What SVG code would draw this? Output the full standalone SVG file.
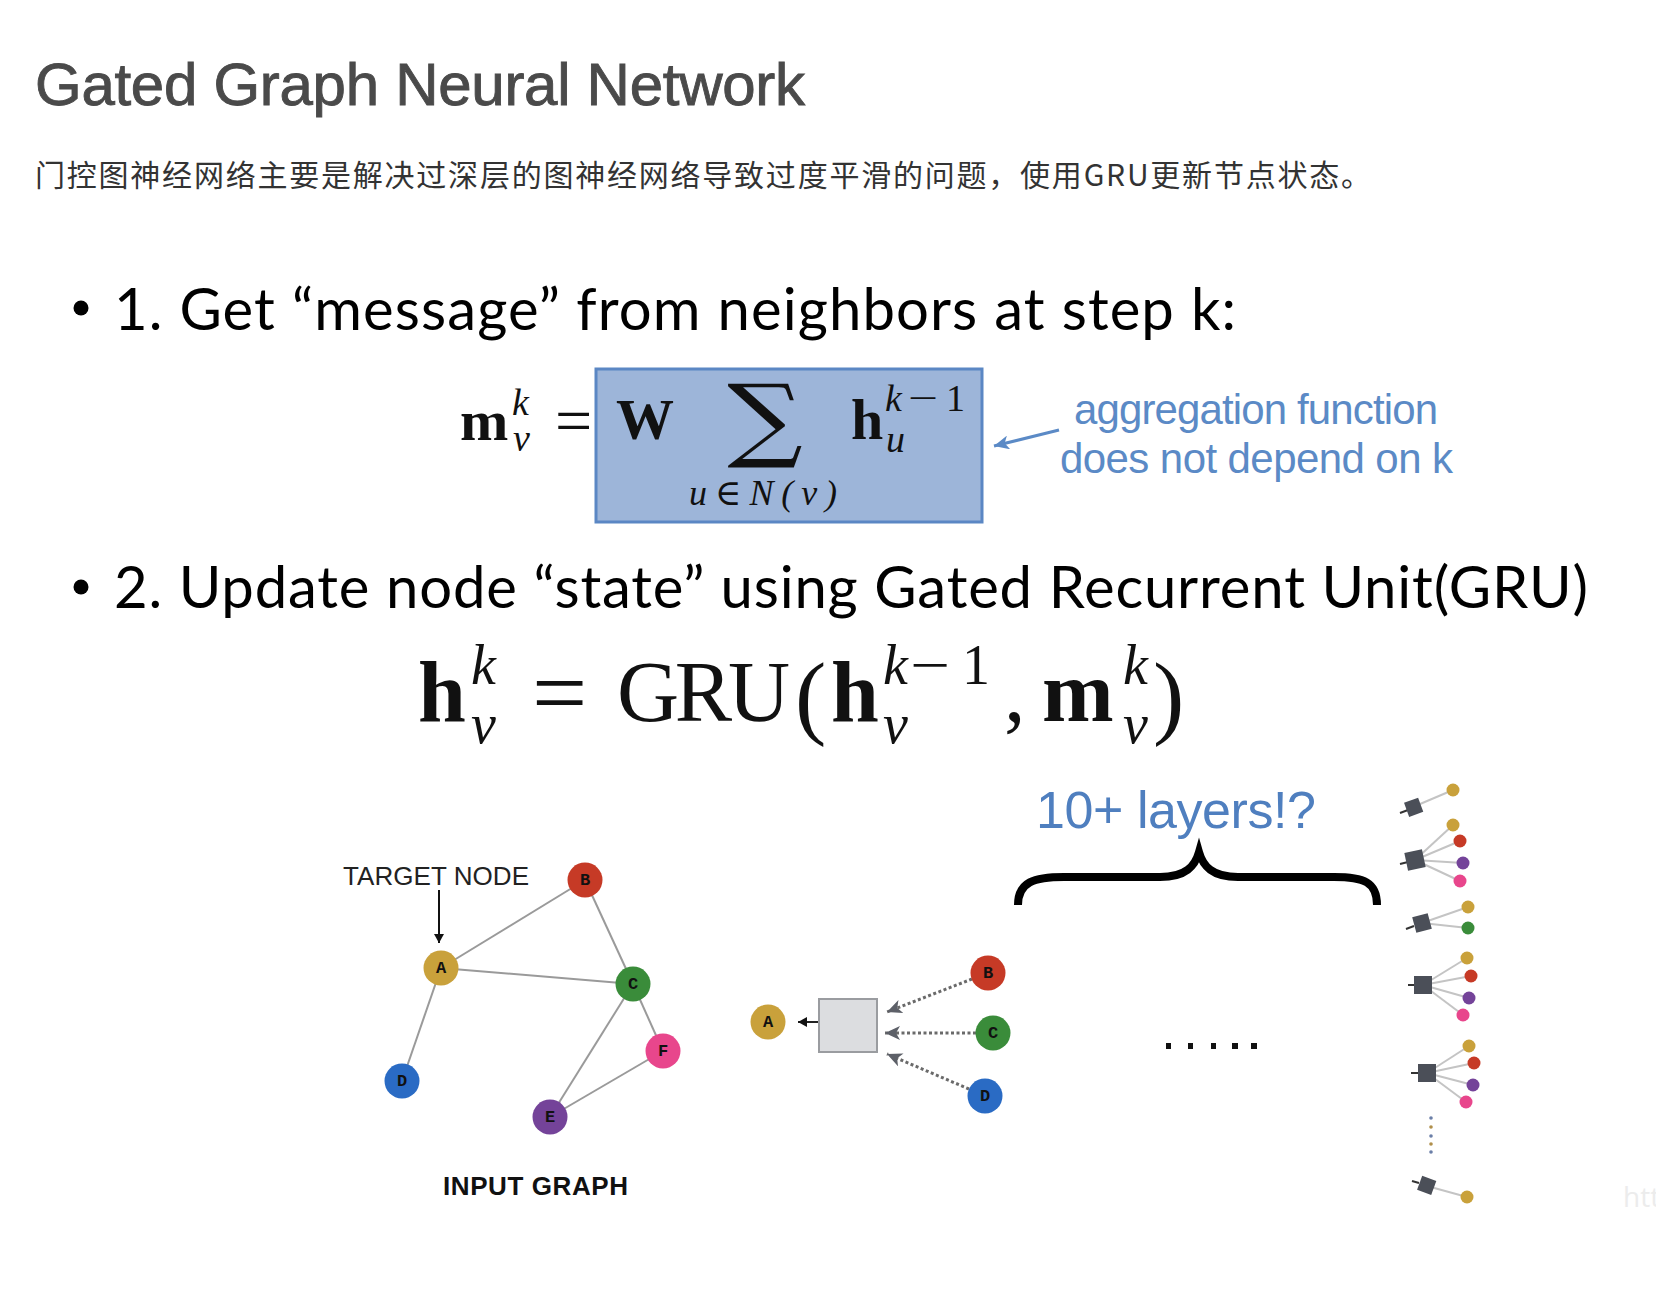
<svg xmlns="http://www.w3.org/2000/svg" width="1656" height="1314" viewBox="0 0 1656 1314">
<defs>
<style>
.title{font-family:"Liberation Sans",Arial,sans-serif;font-size:60px;fill:#4a4a4a;stroke:#4a4a4a;stroke-width:0.9px}
.cn{font-family:"Noto Sans CJK SC",sans-serif;font-size:30px;fill:#333}
.bul{font-family:Lato,"Open Sans",sans-serif;font-size:58px;fill:#000}
.mb{font-family:"Liberation Serif","DejaVu Serif",serif;font-weight:bold;fill:#111}
.mi{font-family:"Liberation Serif","DejaVu Serif",serif;font-style:italic;fill:#111}
.mr{font-family:"Liberation Serif","DejaVu Serif",serif;fill:#111}
.blue{font-family:"Liberation Sans",Arial,sans-serif;fill:#5b8ac6}
.nl{font-family:"Liberation Mono","Courier New",monospace;font-weight:bold;font-size:17px;fill:#111;text-anchor:middle}
.edge{stroke:#9a9a9a;stroke-width:2}
.dot{stroke:#6a6a6a;stroke-width:3;stroke-dasharray:3 2.5;fill:none}
.sq{fill:#4b4f58}
.re{stroke:#c4c4c4;stroke-width:2}
.gold{fill:#c9a13b}.red{fill:#c63a26}.green{fill:#3a8c3a}.pink{fill:#e8468c}.blueN{fill:#2a6bc4}.purple{fill:#744399}
</style>
<marker id="gray" markerUnits="userSpaceOnUse" markerWidth="16" markerHeight="14" refX="15" refY="7" orient="auto"><path d="M0,0 L15,7 L0,14 L4,7 Z" fill="#5d6068"/></marker>
<marker id="blk" markerUnits="userSpaceOnUse" markerWidth="10" markerHeight="10" refX="9" refY="5" orient="auto"><path d="M0,0 L9,5 L0,10 Z" fill="#111"/></marker>
<marker id="blu" markerUnits="userSpaceOnUse" markerWidth="16" markerHeight="14" refX="15" refY="7" orient="auto"><path d="M0,0 L15,7 L0,14 L4,7 Z" fill="#5b8ac6"/></marker>
</defs>
<rect width="1656" height="1314" fill="#fff"/>

<text class="title" x="35" y="105" textLength="770">Gated Graph Neural Network</text>
<text class="cn" x="35" y="186" textLength="1336">门控图神经网络主要是解决过深层的图神经网络导致过度平滑的问题，使用GRU更新节点状态。</text>

<circle cx="81" cy="308" r="7.5" fill="#000"/>
<text class="bul" x="114" y="330" textLength="1122">1. Get “message” from neighbors at step k:</text>

<!-- formula 1 -->
<g id="formula1">
<rect x="596" y="369" width="386" height="153" fill="#9db5d9" stroke="#5b87c4" stroke-width="3"/>
<text class="mb" x="460" y="440" font-size="58">m</text>
<text class="mi" x="512" y="415" font-size="38">k</text>
<text class="mi" x="513" y="451" font-size="38">v</text>
<text class="mr" x="555" y="443" font-size="66">=</text>
<text class="mb" x="616" y="439" font-size="58">W</text>
<text class="mr" x="0" y="0" font-size="92" text-anchor="middle" transform="translate(765 450) scale(1.15 1)" style="font-family:'DejaVu Serif',serif">∑</text>
<text class="mi" x="689" y="505" font-size="36" textLength="148">u∈N(v)</text>
<text class="mb" x="851" y="439" font-size="58">h</text>
<text class="mi" x="885" y="411" font-size="38">k</text>
<text class="mr" x="908" y="411" font-size="38" textLength="30" lengthAdjust="spacingAndGlyphs">−</text>
<text class="mr" x="946" y="411" font-size="38">1</text>
<text class="mi" x="886" y="452" font-size="38">u</text>
</g>
<g id="annotation">
<line x1="1059" y1="430" x2="994" y2="446" stroke="#5b8ac6" stroke-width="3" marker-end="url(#blu)"/>
<text class="blue" x="1074" y="424" font-size="42" textLength="364">aggregation function</text>
<text class="blue" x="1060" y="473" font-size="42" textLength="393">does not depend on k</text>
</g>

<circle cx="81" cy="587" r="7.5" fill="#000"/>
<text class="bul" x="114" y="608" textLength="1474">2. Update node “state” using Gated Recurrent Unit(GRU)</text>

<!-- formula 2 -->
<g id="formula2">
<text class="mb" x="418" y="721" font-size="86">h</text>
<text class="mi" x="471" y="684" font-size="56">k</text>
<text class="mi" x="471" y="743" font-size="56">v</text>
<text class="mr" x="532" y="725" font-size="98">=</text>
<text class="mr" x="617" y="721" font-size="86" textLength="173">GRU</text>
<text class="mr" x="795" y="727" font-size="94">(</text>
<text class="mb" x="831" y="721" font-size="86">h</text>
<text class="mi" x="883" y="684" font-size="56">k</text>
<text class="mr" x="910" y="684" font-size="56" textLength="40" lengthAdjust="spacingAndGlyphs">−</text>
<text class="mr" x="962" y="684" font-size="56">1</text>
<text class="mi" x="883" y="743" font-size="56">v</text>
<text class="mr" x="1004" y="721" font-size="86">,</text>
<text class="mb" x="1042" y="721" font-size="86">m</text>
<text class="mi" x="1123" y="684" font-size="56">k</text>
<text class="mi" x="1123" y="743" font-size="56">v</text>
<text class="mr" x="1153" y="727" font-size="94">)</text>
</g>

<!-- input graph -->
<text x="343" y="885" font-family="'Liberation Sans',Arial,sans-serif" font-size="26" fill="#222" textLength="186">TARGET NODE</text>
<text x="443" y="1195" font-family="'Liberation Sans',Arial,sans-serif" font-weight="bold" font-size="26" fill="#111" textLength="185">INPUT GRAPH</text>

<g id="connectors">
<line x1="439" y1="890" x2="439" y2="943" stroke="#111" stroke-width="2" marker-end="url(#blk)"/>
<line class="edge" x1="441" y1="968" x2="585" y2="880"/>
<line class="edge" x1="441" y1="968" x2="633" y2="984"/>
<line class="edge" x1="441" y1="968" x2="402" y2="1081"/>
<line class="edge" x1="585" y1="880" x2="633" y2="984"/>
<line class="edge" x1="633" y1="984" x2="550" y2="1117"/>
<line class="edge" x1="633" y1="984" x2="663" y2="1051"/>
<line class="edge" x1="663" y1="1051" x2="550" y2="1117"/>
<line x1="819" y1="1022" x2="798" y2="1022" stroke="#222" stroke-width="2" marker-end="url(#blk)"/>
<line class="dot" x1="972" y1="979" x2="887" y2="1012" marker-end="url(#gray)"/>
<line class="dot" x1="976" y1="1033" x2="885" y2="1033" marker-end="url(#gray)"/>
<line class="dot" x1="969" y1="1089" x2="887" y2="1054" marker-end="url(#gray)"/>
</g>

<g id="nodeB"><circle class="red" cx="585" cy="880" r="17.5"/><text class="nl" x="585" y="885">B</text></g>
<g id="nodeA"><circle class="gold" cx="441" cy="968" r="17.5"/><text class="nl" x="441" y="973">A</text></g>
<g id="nodeC"><circle class="green" cx="633" cy="984" r="17.5"/><text class="nl" x="633" y="989">C</text></g>
<g id="nodeF"><circle class="pink" cx="663" cy="1051" r="17.5"/><text class="nl" x="663" y="1056">F</text></g>
<g id="nodeD"><circle class="blueN" cx="402" cy="1081" r="17.5"/><text class="nl" x="402" y="1086">D</text></g>
<g id="nodeE"><circle class="purple" cx="550" cy="1117" r="17.5"/><text class="nl" x="550" y="1122">E</text></g>

<!-- aggregation -->
<g id="aggA"><circle class="gold" cx="768" cy="1022" r="17.5"/><text class="nl" x="768" y="1027">A</text></g>
<g id="aggBox"><rect x="819" y="999" width="58" height="53" fill="#dcdde0" stroke="#9a9ca0" stroke-width="2"/></g>
<g id="aggB"><circle class="red" cx="988" cy="973" r="17.5"/><text class="nl" x="988" y="978">B</text></g>
<g id="aggC"><circle class="green" cx="993" cy="1033" r="17.5"/><text class="nl" x="993" y="1038">C</text></g>
<g id="aggD"><circle class="blueN" cx="985" cy="1096" r="17.5"/><text class="nl" x="985" y="1101">D</text></g>

<!-- layers -->
<text x="1036" y="828" font-family="'Liberation Sans',Arial,sans-serif" font-size="52" fill="#4f7fbf" textLength="280">10+ layers!?</text>
<path d="M1018 905 C1018 882 1034 877 1064 877 L1160 877 C1186 877 1195 866 1199 852 C1203 866 1212 877 1238 877 L1334 877 C1364 877 1377 882 1377 905" fill="none" stroke="#000" stroke-width="8"/>
<g id="ellipsis" fill="#111">
<rect x="1166" y="1043" width="5" height="6"/><rect x="1188" y="1043" width="5" height="6"/><rect x="1211" y="1043" width="5" height="6"/><rect x="1232" y="1043" width="6" height="6"/><rect x="1251" y="1043" width="6" height="6"/>
</g>

<!-- right column -->
<g id="tree1">
<line class="re" x1="1413" y1="807" x2="1453" y2="790"/>
<line x1="1400" y1="813" x2="1408" y2="810" stroke="#333" stroke-width="2"/>
<rect class="sq" x="1406" y="800" width="15" height="15" transform="rotate(-20 1413 807)"/>
<circle class="gold" cx="1453" cy="790" r="6.5"/>
</g>
<g id="tree2">
<line class="re" x1="1415" y1="860" x2="1453" y2="825"/>
<line class="re" x1="1415" y1="860" x2="1460" y2="841"/>
<line class="re" x1="1415" y1="860" x2="1463" y2="863"/>
<line class="re" x1="1415" y1="860" x2="1460" y2="881"/>
<line x1="1400" y1="864" x2="1408" y2="862" stroke="#333" stroke-width="2"/>
<rect class="sq" x="1406" y="851" width="18" height="18" transform="rotate(-12 1415 860)"/>
<circle class="gold" cx="1453" cy="825" r="6.5"/><circle class="red" cx="1460" cy="841" r="6.5"/><circle class="purple" cx="1463" cy="863" r="6.5"/><circle class="pink" cx="1460" cy="881" r="6.5"/>
</g>
<g id="tree3">
<line class="re" x1="1422" y1="923" x2="1468" y2="907"/>
<line class="re" x1="1422" y1="923" x2="1468" y2="928"/>
<line x1="1406" y1="929" x2="1414" y2="926" stroke="#333" stroke-width="2"/>
<rect class="sq" x="1414" y="915" width="16" height="16" transform="rotate(-15 1422 923)"/>
<circle class="gold" cx="1468" cy="907" r="6.5"/><circle class="green" cx="1468" cy="928" r="6.5"/>
</g>
<g id="tree4">
<line class="re" x1="1423" y1="985" x2="1467" y2="958"/>
<line class="re" x1="1423" y1="985" x2="1471" y2="976"/>
<line class="re" x1="1423" y1="985" x2="1469" y2="998"/>
<line class="re" x1="1423" y1="985" x2="1463" y2="1015"/>
<line x1="1408" y1="985" x2="1415" y2="985" stroke="#333" stroke-width="2"/>
<rect class="sq" x="1414" y="976" width="18" height="18"/>
<circle class="gold" cx="1467" cy="958" r="6.5"/><circle class="red" cx="1471" cy="976" r="6.5"/><circle class="purple" cx="1469" cy="998" r="6.5"/><circle class="pink" cx="1463" cy="1015" r="6.5"/>
</g>
<g id="tree5">
<line class="re" x1="1427" y1="1073" x2="1469" y2="1046"/>
<line class="re" x1="1427" y1="1073" x2="1474" y2="1063"/>
<line class="re" x1="1427" y1="1073" x2="1473" y2="1085"/>
<line class="re" x1="1427" y1="1073" x2="1466" y2="1102"/>
<line x1="1411" y1="1073" x2="1418" y2="1073" stroke="#333" stroke-width="2"/>
<rect class="sq" x="1418" y="1064" width="18" height="18"/>
<circle class="gold" cx="1469" cy="1046" r="6.5"/><circle class="red" cx="1474" cy="1063" r="6.5"/><circle class="purple" cx="1473" cy="1085" r="6.5"/><circle class="pink" cx="1466" cy="1102" r="6.5"/>
</g>
<g id="vdots">
<circle cx="1431" cy="1118" r="1.8" fill="#6b7fa8"/><circle cx="1431" cy="1127" r="1.8" fill="#b08f4a"/><circle cx="1431" cy="1136" r="1.8" fill="#6b7fa8"/><circle cx="1431" cy="1144" r="1.8" fill="#b08f4a"/><circle cx="1431" cy="1152" r="1.8" fill="#6b7fa8"/>
</g>
<g id="tree6">
<line class="re" x1="1427" y1="1186" x2="1467" y2="1197"/>
<line x1="1412" y1="1181" x2="1419" y2="1183" stroke="#333" stroke-width="2"/>
<rect class="sq" x="1419" y="1178" width="15" height="15" transform="rotate(20 1427 1186)"/>
<circle class="gold" cx="1467" cy="1197" r="6.5"/>
</g>

<text x="1623" y="1207" font-family="'Open Sans','Liberation Sans',sans-serif" font-size="28" fill="#ececec">htt</text>
</svg>
